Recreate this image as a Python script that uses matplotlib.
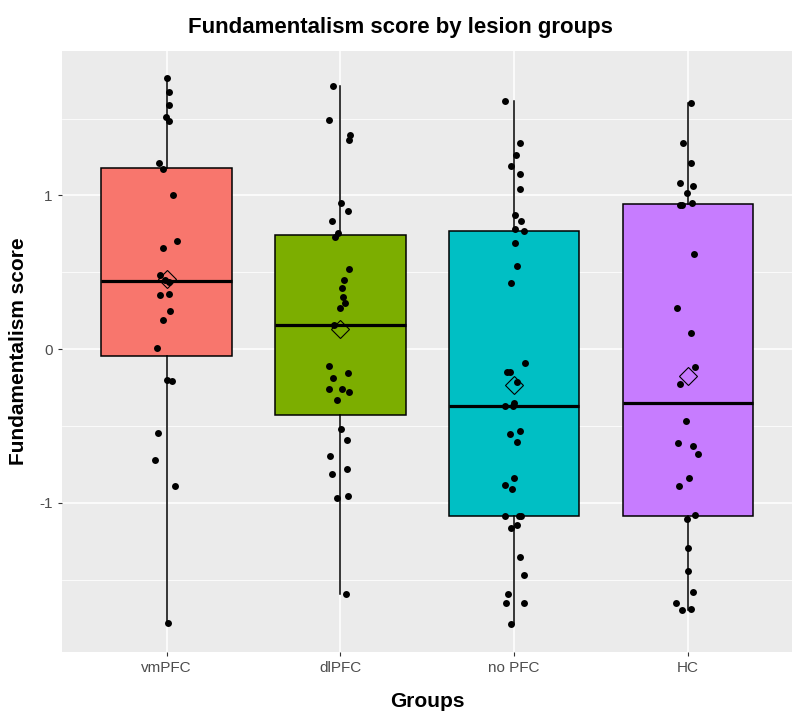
import matplotlib
matplotlib.use("Agg")
import matplotlib.pyplot as plt
import numpy as np

groups = ["vmPFC", "dlPFC", "no PFC", "HC"]
colors = ["#F8766D", "#7CAE00", "#00BFC4", "#C77CFF"]

vmpfc = [1.764, 1.671, 1.591, 1.513, 1.487, 1.212, 1.169, 1.0, 0.701, 0.66, 0.48, 0.448,
         0.437, 0.36, 0.351, 0.249, 0.19, 0.011, -0.201, -0.21, -0.543, -0.721, -0.89, -1.781]
vmpfc_jit = [0.3, 2.7, 2.7, -0.7, 2, -7.3, -4, 6, 10.3, -4, -6.3, -1.3, 2, 2, -6.3, 3, -4, -10,
             0, 5.3, -9, -11.3, 8, 1]

dlpfc = [1.71, 1.489, 1.396, 1.362, 0.95, 0.90, 0.831, 0.755, 0.729, 0.521, 0.45, 0.40, 0.338,
         0.301, 0.271, 0.16, -0.108, -0.158, -0.19, -0.26, -0.26, -0.281, -0.333, -0.519, -0.591,
         -0.693, -0.781, -0.812, -0.952, -0.97, -1.591]
dlpfc_jit = [-7, -11, 10, 9, 0.7, 7.3, -8.3, -2, -5.7, 8.3, 3.7, 2, 2.3, 4.7, -0.3, -6.3, -11.3,
             7.7, -7, -11.3, 1.3, 8.3, -3.7, 0.7, 7, -10.3, 6.7, -8.3, 8, -3.7, 5.3]

nopfc = [1.612, 1.342, 1.26, 1.19, 1.141, 1.039, 0.872, 0.831, 0.781, 0.768, 0.69, 0.539, 0.431,
         -0.089, -0.151, -0.151, -0.212, -0.349, -0.37, -0.37, -0.53, -0.552, -0.602, -0.84,
         -0.883, -0.911, -1.082, -1.082, -1.082, -1.143, -1.165, -1.351, -1.472, -1.591, -1.652,
         -1.652, -1.79]
nopfc_jit = [-9.3, 5.7, 1.3, -3.3, 6, 5.3, 0.7, 6.3, 0.3, 9.3, 1, 2.7, -3.7, 11, -7.7, -4.3, 2.7,
             -0.3, -9.3, -1.7, 5.7, -4.3, 2.7, 0, -9.3, -2, -9.3, 4.3, 6.3, 3, -3, 5.7, 9.7, -6.3,
             -8.3, 9.7, -3.7]

hc = [1.602, 1.342, 1.21, 1.08, 1.06, 1.015, 0.94, 0.94, 0.95, 0.621, 0.271, 0.108, -0.119,
      -0.229, -0.47, -0.613, -0.63, -0.68, -0.84, -0.89, -1.08, -1.104, -1.292, -1.442, -1.582,
      -1.652, -1.699, -1.688]
hc_jit = [3, -5.3, 3, -7.7, 4.7, -0.7, -7.7, -6, 4, 5.7, -11, 2.7, 7, -7.7, -2, -9.7, 5.3, 9.7, 1,
          -8.7, 7, -1.3, 0.3, 0, 5, -11.7, -6, 3.3]

data = [vmpfc, dlpfc, nopfc, hc]
jitters = [vmpfc_jit, dlpfc_jit, nopfc_jit, hc_jit]

plt.rcParams['font.family'] = ['Liberation Sans', 'DejaVu Sans']

fig = plt.figure(figsize=(8.0, 7.19), dpi=100)
ax = fig.add_axes([0.0779, 0.0936, 0.9125, 0.8359])
ax.set_facecolor("#EBEBEB")

positions = np.arange(1, len(groups) + 1)
bp = ax.boxplot(data, positions=positions, widths=0.75, patch_artist=True, showfliers=False,
                whis=1.5, zorder=2,
                boxprops=dict(edgecolor="black", linewidth=1.1),
                whiskerprops=dict(color="black", linewidth=1.1),
                capprops=dict(linewidth=0),
                medianprops=dict(color="black", linewidth=2.3))
for patch, c in zip(bp["boxes"], colors):
    patch.set_facecolor(c)
for cap in bp["caps"]:
    cap.set_visible(False)

px_per_unit = 173.7
for i, (vals, jit) in enumerate(zip(data, jitters)):
    xs = positions[i] + np.array(jit) / px_per_unit
    ax.scatter(xs, vals, s=25, color="black", zorder=3, linewidths=0)
    ax.plot([positions[i]], [np.mean(vals)], marker="D", markersize=9.5,
            markerfacecolor="none", markeredgecolor="black", markeredgewidth=0.8, zorder=4)

ymin = min(min(d) for d in data)
ymax = max(max(d) for d in data)
pad = 0.05 * (ymax - ymin)
ax.set_ylim(ymin - pad, ymax + pad)
ax.set_xlim(0.4, 4.6)

ax.set_xticks(positions)
ax.set_xticklabels(groups)
ax.set_yticks([-1, 0, 1])
ax.set_yticklabels(["-1", "0", "1"])
ax.set_yticks([-1.5, -0.5, 0.5, 1.5], minor=True)
ax.grid(which="major", color="white", linewidth=1.1, zorder=0)
ax.grid(which="minor", axis="y", color="white", linewidth=0.55, zorder=0)
ax.set_axisbelow(True)
for s in ax.spines.values():
    s.set_visible(False)
ax.tick_params(axis="both", which="major", length=3, width=0.8, color="#333333",
               labelcolor="#4D4D4D", labelsize=11, pad=4)
ax.tick_params(axis="y", which="minor", length=0)

ax.set_xlabel("Groups", fontsize=15, fontweight="bold", labelpad=12)
ax.set_ylabel("Fundamentalism score", fontsize=15, fontweight="bold", labelpad=8)
fig.text(0.5, 0.962, "Fundamentalism score by lesion groups", ha="center", va="center",
         fontsize=16, fontweight="bold")

fig.savefig("out.png", dpi=100)
